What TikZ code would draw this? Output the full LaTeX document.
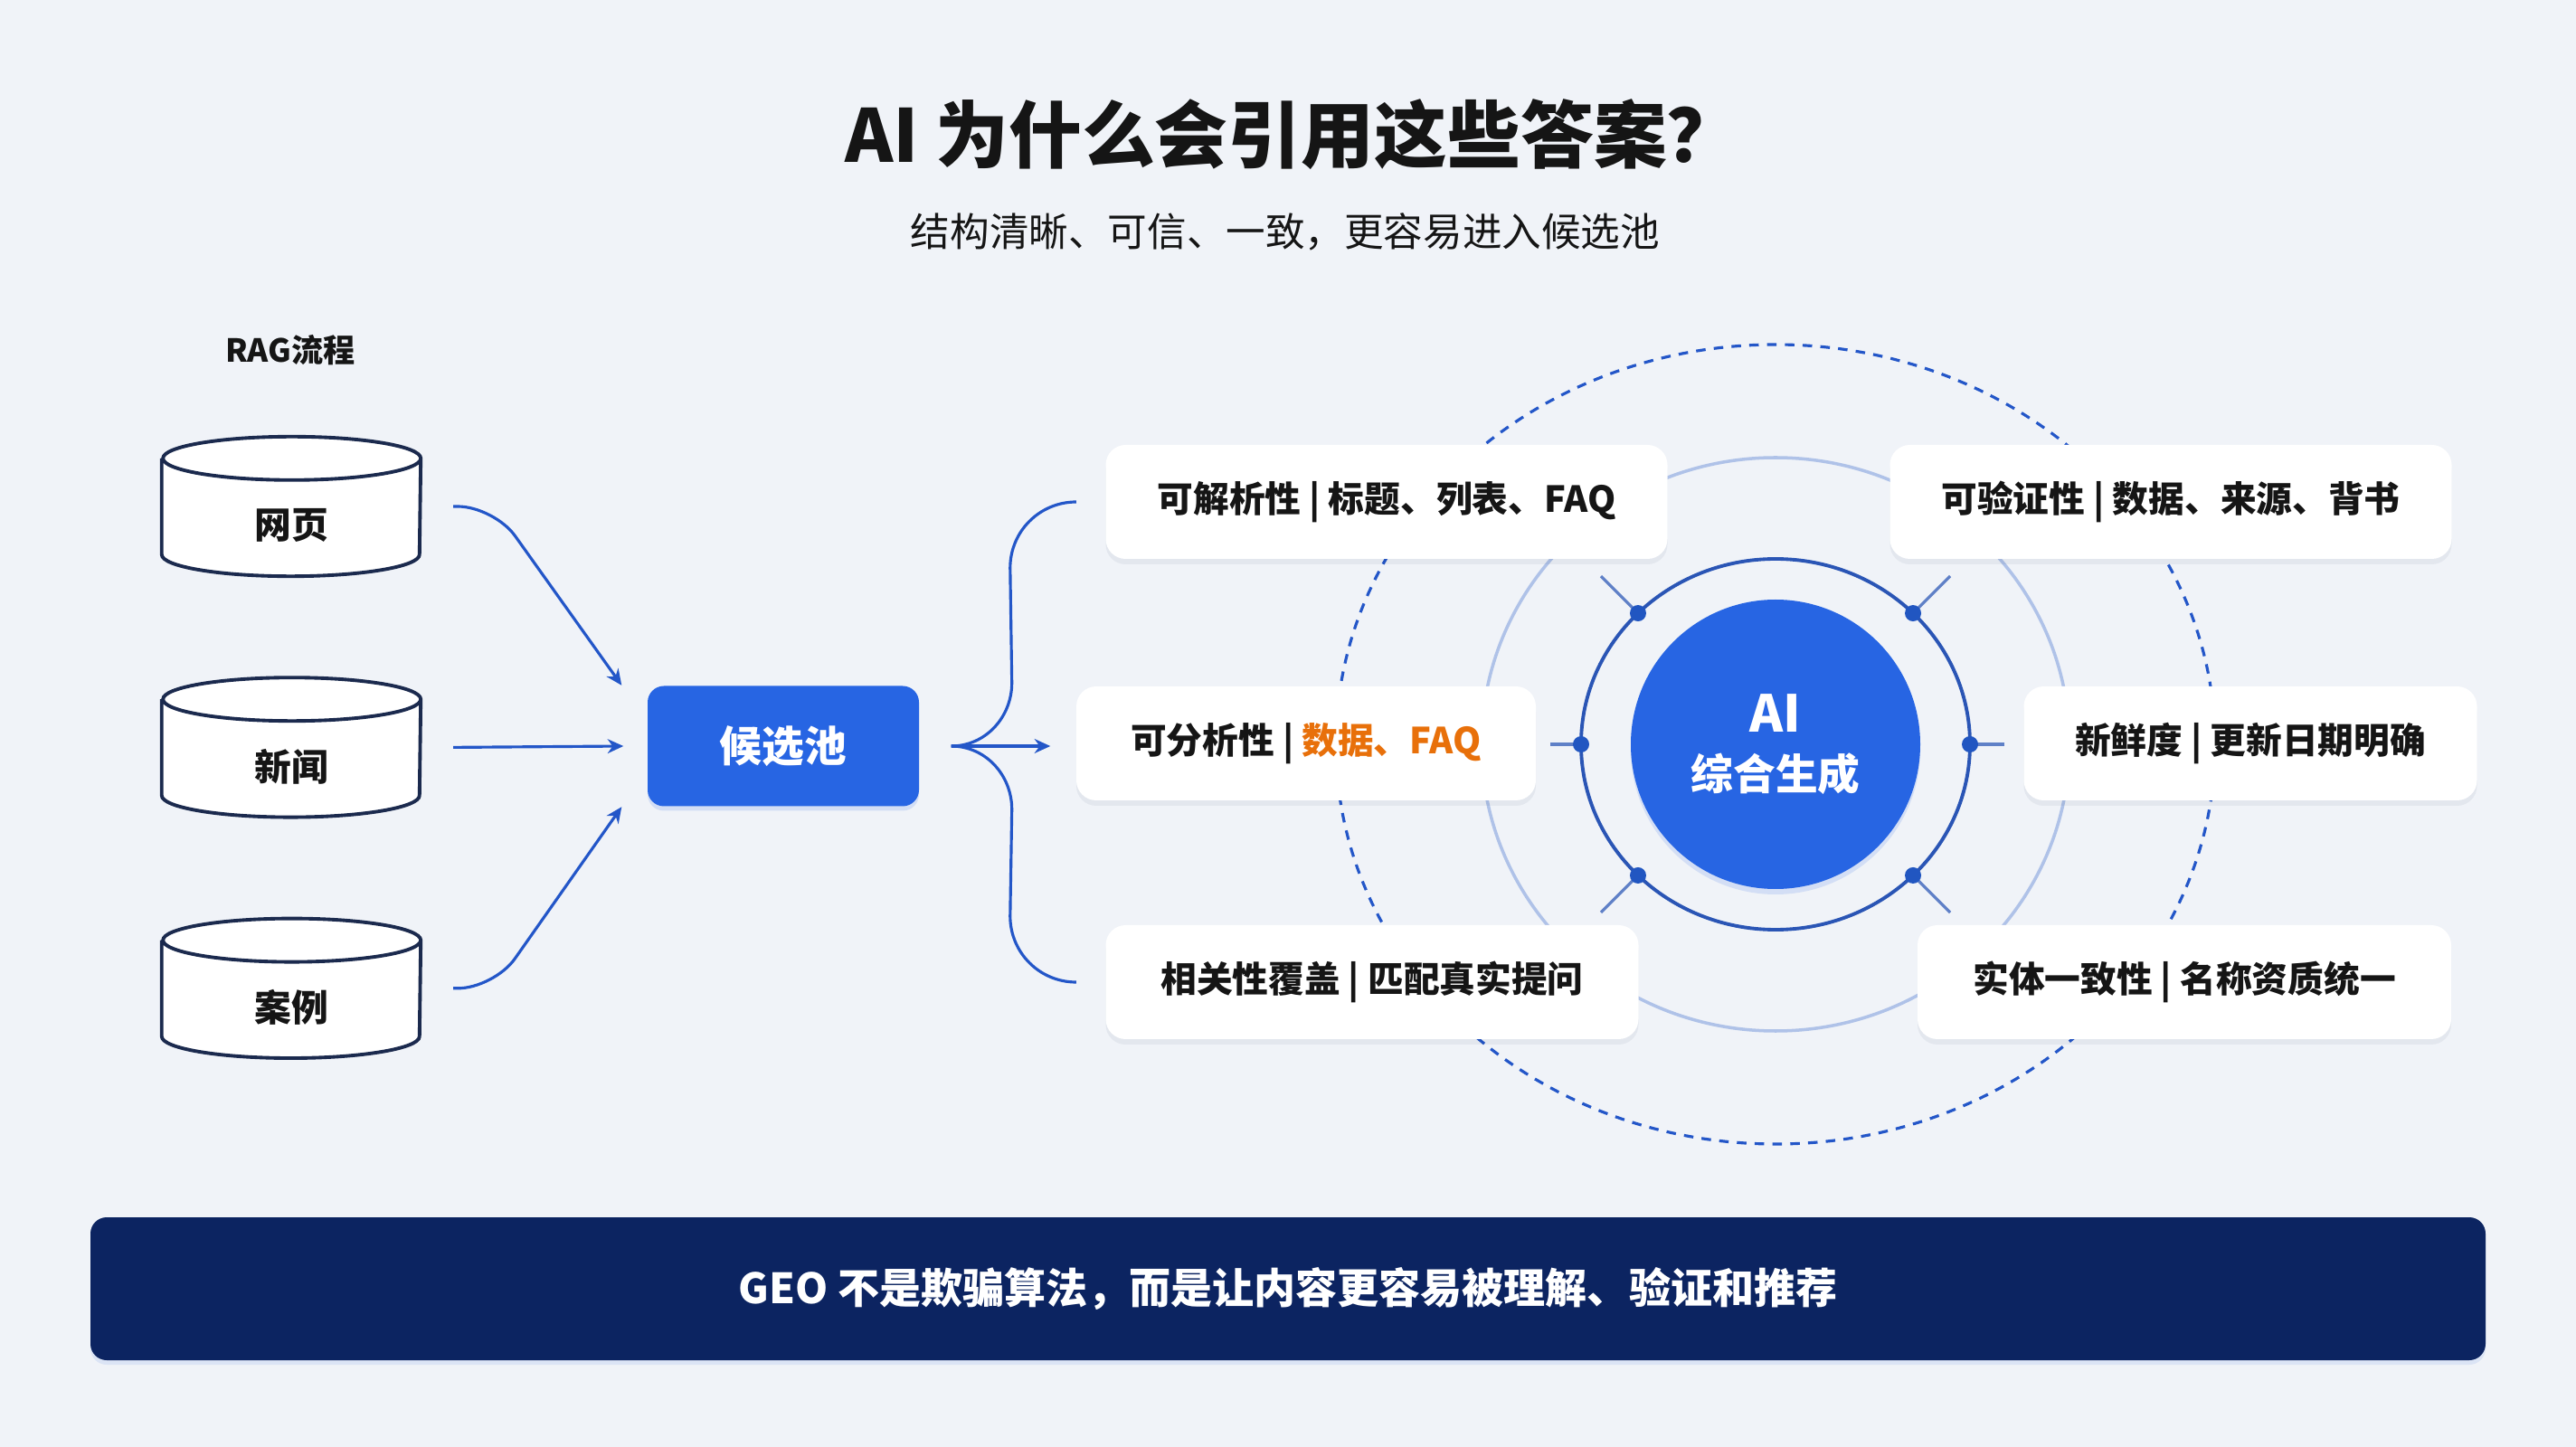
\documentclass[tikz,border=0pt]{standalone}
\usepackage{fontspec}
\setmainfont{Noto Sans CJK SC}
\usepackage{xcolor}
\usetikzlibrary{arrows.meta, positioning, calc, shadows}
\definecolor{GEOBlue}{HTML}{2765E3}
\definecolor{GEOLine}{HTML}{2356C8}
\definecolor{GEONavy}{HTML}{0C2461}
\definecolor{GEOInk}{HTML}{1B2A4E}
\definecolor{GEOOrange}{HTML}{E8700A}
\definecolor{GEORing}{HTML}{2A55B5}
\definecolor{GEOHalo}{HTML}{AFC2E8}
\definecolor{GEOBack}{HTML}{F0F3F8}
\definecolor{GEOText}{HTML}{151515}

\begin{document}
\begin{tikzpicture}[
    dbbox/.style={
        rectangle, minimum width=2.85cm, minimum height=1.53cm, inner sep=0pt
    },
    dbline/.style={draw=GEOInk, line width=1.1pt, fill=white},
    dbtext/.style={font=\bfseries\fontsize{11.6}{14}\selectfont, text=GEOText},
    pool/.style={
        rectangle, rounded corners=0.18cm, fill=GEOBlue,
        minimum width=3cm, minimum height=1.33cm,
        text=white, font=\bfseries\fontsize{13.3}{16}\selectfont,
        drop shadow={shadow xshift=0cm, shadow yshift=-0.05cm, opacity=0.14, fill=GEOBlue}
    },
    card/.style={
        rectangle, rounded corners=0.22cm, fill=white,
        minimum height=1.26cm, inner xsep=0.3cm,
        text=GEOText, font=\bfseries\fontsize{11.3}{14}\selectfont,
        drop shadow={shadow xshift=0cm, shadow yshift=-0.06cm, opacity=0.06, fill=GEOInk}
    },
    core/.style={
        circle, fill=GEOBlue, minimum size=3.2cm, align=center,
        text=white, font=\bfseries\fontsize{13.3}{18}\selectfont,
        drop shadow={shadow xshift=0cm, shadow yshift=-0.06cm, opacity=0.14, fill=GEOBlue}
    },
    banner/.style={
        rectangle, rounded corners=0.18cm, fill=GEONavy,
        minimum width=26.48cm, minimum height=1.58cm,
        text=white, font=\bfseries\fontsize{13.1}{16}\selectfont,
        drop shadow={shadow xshift=0cm, shadow yshift=-0.05cm, opacity=0.1, fill=GEOBlue}
    },
    flow/.style={-{Stealth[length=5pt, width=4.5pt]}, line width=0.9pt, draw=GEOLine},
    brace/.style={line width=0.9pt, draw=GEOLine},
    tick/.style={line width=0.9pt, draw=GEORing!75},
    dot/.style={circle, fill=GEOBlue!85!black, inner sep=0pt, minimum size=0.18cm}
]

\useasboundingbox (0,0) rectangle (28.48,-16);
\fill[GEOBack] (0,0) rectangle (28.48,-16);

% titles
\node[font=\bfseries\fontsize{23}{28}\selectfont, text=GEOText] (title) at (14.29,-1.49)
    {AI 为什么会引用这些答案？};
\node[font=\fontsize{12.4}{15}\selectfont, text=GEOText] (subtitle) at (14.21,-2.56)
    {结构清晰、可信、一致，更容易进入候选池};
\node[font=\bfseries\fontsize{10}{12}\selectfont, text=GEOText] (ragtitle) at (3.21,-3.87) {RAG流程};

% sources
\node[dbbox] (web) at (3.22,-5.60) {};
\node[dbbox, below=1.12cm of web] (news) {};
\node[dbbox, below=1.12cm of news] (case) {};

\draw[dbline] ([yshift=-0.24cm]web.north west) -- ([yshift=0.24cm]web.south west)
    arc[start angle=180, end angle=360, x radius=1.425, y radius=0.24]
    -- ([yshift=-0.24cm]web.north east)
    arc[start angle=0, end angle=360, x radius=1.425, y radius=0.24];
\draw[dbline] ([yshift=-0.24cm]news.north west) -- ([yshift=0.24cm]news.south west)
    arc[start angle=180, end angle=360, x radius=1.425, y radius=0.24]
    -- ([yshift=-0.24cm]news.north east)
    arc[start angle=0, end angle=360, x radius=1.425, y radius=0.24];
\draw[dbline] ([yshift=-0.24cm]case.north west) -- ([yshift=0.24cm]case.south west)
    arc[start angle=180, end angle=360, x radius=1.425, y radius=0.24]
    -- ([yshift=-0.24cm]case.north east)
    arc[start angle=0, end angle=360, x radius=1.425, y radius=0.24];

\node[dbtext] (webtext)  at ([yshift=-0.21cm]web.center)  {网页};
\node[dbtext] (newstext) at ([yshift=-0.21cm]news.center) {新闻};
\node[dbtext] (casetext) at ([yshift=-0.21cm]case.center) {案例};

% candidate pool
\node[pool] (pool) at (8.66,-8.25) {候选池};

\draw[flow, rounded corners=0.4cm] ([xshift=0.36cm]web.east) -- ++(0.45,0)
    -- ([xshift=-0.28cm]pool.north west);
\draw[flow] ([xshift=0.36cm]news.east) -- ([xshift=-0.26cm]pool.west);
\draw[flow, rounded corners=0.4cm] ([xshift=0.36cm]case.east) -- ++(0.45,0)
    -- ([xshift=-0.28cm]pool.south west);

% AI core and rings
\node[core] (ai) at (19.63,-8.23) {{\fontsize{16}{18}\selectfont AI}\\综合生成};

\draw[GEOLine, line width=0.9pt, dash pattern=on 3pt off 2.6pt] (ai) ellipse[x radius=4.86, y radius=4.42];
\draw[GEOHalo, line width=1pt] (ai) ellipse[x radius=3.25, y radius=3.17];
\draw[GEORing, line width=1.1pt] (ai) ellipse[x radius=2.15, y radius=2.05];

\draw[tick] ($(ai)+(0:2.15 and 2.05)$)   node[dot] (d1) {} -- ++(0:0.38);
\draw[tick] ($(ai)+(45:2.15 and 2.05)$)  node[dot] (d2) {} -- ++(45:0.58);
\draw[tick] ($(ai)+(135:2.15 and 2.05)$) node[dot] (d3) {} -- ++(135:0.58);
\draw[tick] ($(ai)+(180:2.15 and 2.05)$) node[dot] (d4) {} -- ++(180:0.34);
\draw[tick] ($(ai)+(225:2.15 and 2.05)$) node[dot] (d5) {} -- ++(225:0.58);
\draw[tick] ($(ai)+(315:2.15 and 2.05)$) node[dot] (d6) {} -- ++(315:0.58);

% criteria
\node[card, minimum width=6.21cm] (parse)     at (15.33,-5.55) {可解析性 | 标题、列表、FAQ};
\node[card, minimum width=5.08cm] (analyse)   at (14.44,-8.22) {可分析性 | \textcolor{GEOOrange}{数据、FAQ}};
\node[card, minimum width=5.89cm] (relevance) at (15.17,-10.86) {相关性覆盖 | 匹配真实提问};
\node[card, minimum width=6.21cm] (verify)    at (24.00,-5.55) {可验证性 | 数据、来源、背书};
\node[card, minimum width=5.01cm] (fresh)     at (24.88,-8.22) {新鲜度 | 更新日期明确};
\node[card, minimum width=5.90cm] (entity)    at (24.15,-10.86) {实体一致性 | 名称资质统一};

\draw[brace] ([xshift=0.35cm]pool.east) to[out=0, in=-90] ++(0.67,0.7)
    -- ([xshift=-1.05cm, yshift=-0.73cm]parse.west)
    to[out=90, in=180] ([xshift=-0.32cm]parse.west);
\draw[brace] ([xshift=0.35cm]pool.east) to[out=0, in=90] ++(0.67,-0.7)
    -- ([xshift=-1.05cm, yshift=0.73cm]relevance.west)
    to[out=-90, in=180] ([xshift=-0.32cm]relevance.west);
\draw[flow] ([xshift=0.35cm]pool.east) -- ([xshift=-0.28cm]analyse.west |- pool.east);

% takeaway
\node[banner] (motto) at (14.24,-14.25) {GEO 不是欺骗算法，而是让内容更容易被理解、验证和推荐};

\end{tikzpicture}
\end{document}
